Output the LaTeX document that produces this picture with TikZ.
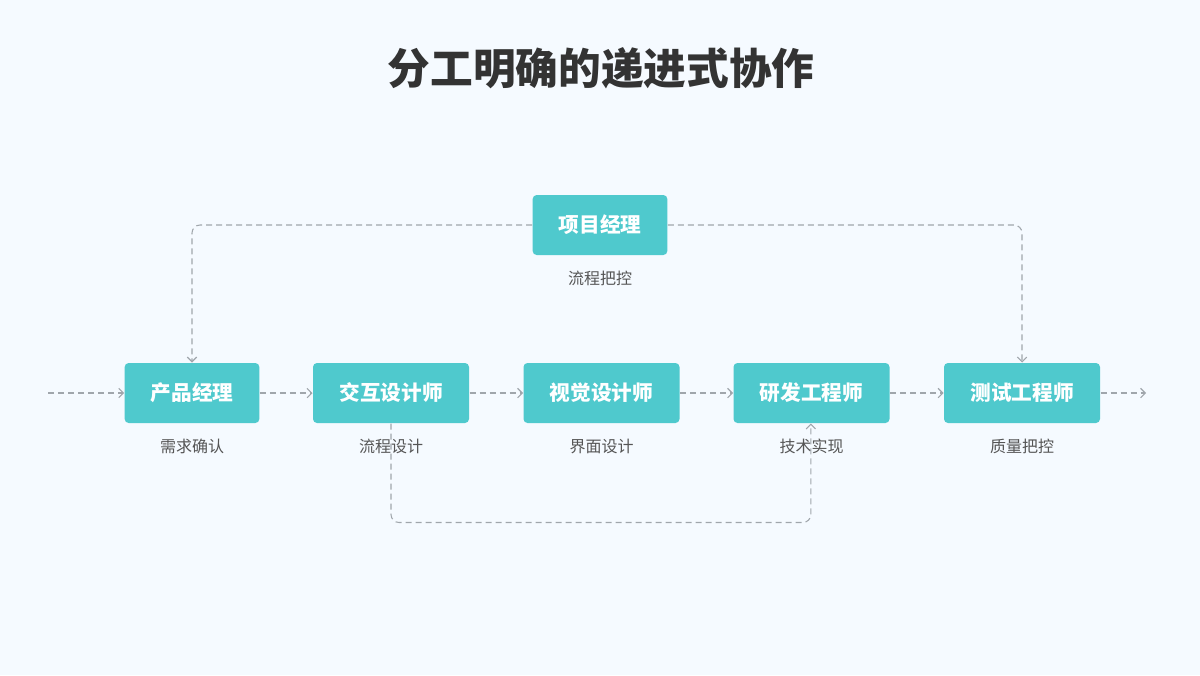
\documentclass[tikz,border=0pt]{standalone}
\usepackage{fontspec}
\setmainfont{Noto Sans CJK SC}
\usetikzlibrary{arrows.meta}

\definecolor{bgblue}{RGB}{245,250,255}
\definecolor{boxteal}{RGB}{79,201,205}
\definecolor{titlegray}{RGB}{51,51,51}
\definecolor{notegray}{RGB}{85,85,85}
\definecolor{linegray}{RGB}{160,166,172}

\tikzset{every picture/.style={line width=0.75pt}}
\tikzset{
  rolebox/.style={rectangle, rounded corners=3pt, fill=boxteal, text=white,
    font=\fontsize{15.5}{18}\selectfont\bfseries, minimum width=#1, minimum height=45pt, inner sep=0pt},
  rolebox/.default=101pt,
  note/.style={text=notegray, font=\fontsize{12}{14}\selectfont},
  flow/.style={draw=linegray, line width=0.8pt, dash pattern={on 4.5pt off 3pt},
    -{Straight Barb[length=3.5pt,width=7pt]}, rounded corners=6pt}
}

\begin{document}
\begin{tikzpicture}[x=0.75pt,y=0.75pt,yscale=-1,xscale=1]
%background, sets the page size
\path[fill=bgblue] (0,0) rectangle (1200,675);

% Title
\node[text=titlegray, font=\fontsize{32}{38}\selectfont\bfseries] (title) at (601,68) {分工明确的递进式协作};

% Boxes
\node[rolebox=101pt] (pm) at (600,225) {项目经理};
\node[rolebox=101pt] (cp) at (192,393) {产品经理};
\node[rolebox=117pt] (ix) at (391,393) {交互设计师};
\node[rolebox=117pt] (vd) at (601.5,393) {视觉设计师};
\node[rolebox=117pt] (dev) at (811.5,393) {研发工程师};
\node[rolebox=117pt] (qa) at (1022,393) {测试工程师};

% Text Node
\node[note] (pmnote) at (600,278) {流程把控};
\node[note] (cpnote) at (192,446) {需求确认};
\node[note] (ixnote) at (391,446) {流程设计};
\node[note] (vdnote) at (601.5,446) {界面设计};
\node[note] (devnote) at (811.5,446) {技术实现};
\node[note] (qanote) at (1022,446) {质量把控};

\coordinate (start) at (48,393);
\coordinate (end) at (1146,393);

% main chain
\draw[flow] (start) -- (cp);
\draw[flow] (cp) -- (ix);
\draw[flow] (ix) -- (vd);
\draw[flow] (vd) -- (dev);
\draw[flow] (dev) -- (qa);
\draw[flow] (qa) -- (end);

% loops
\draw[flow] (pm.west) -| (cp.north);
\draw[flow] (pm.east) -| (qa.north);
\draw[flow] (ix.south) -- ++(0,99) -| ([xshift=-0.5pt]dev.south);

\end{tikzpicture}
\end{document}
